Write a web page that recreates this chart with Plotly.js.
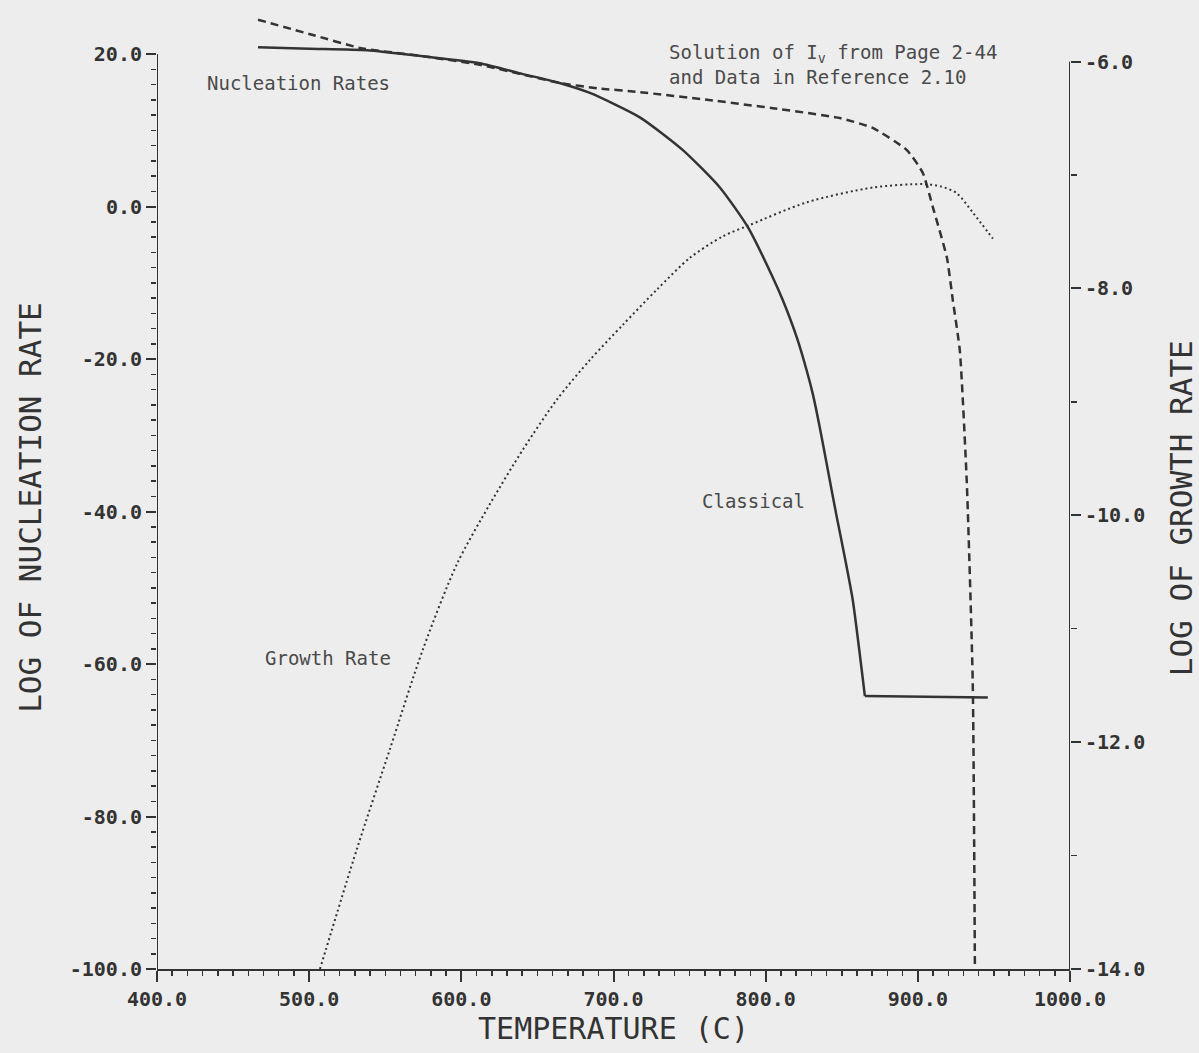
<!DOCTYPE html>
<html>
<head>
<meta charset="utf-8">
<script src="https://cdn.plot.ly/plotly-3.0.1.min.js"></script>
<style>html,body{margin:0;padding:0;background:#ededed;}</style>
</head>
<body>
<div id="chart" style="width:1199px;height:1053px;"></div>
<script>
// Classical nucleation rate (solid, left axis)
const tempClassical = [466.4, 500, 538, 575, 612, 640, 662.8, 684.5, 717.3, 745.6, 769.9, 788.3, 804.7, 811.3, 820.5, 827.1, 831.0, 835.6, 840.9, 846.8, 852.0, 857.3, 865.2, 946.0];
const logNucClassical = [20.9, 20.7, 20.5, 19.7, 18.8, 17.4, 16.3, 14.9, 11.7, 7.4, 2.5, -2.7, -9.3, -12.3, -17.2, -21.6, -24.6, -29.0, -34.6, -40.8, -46.0, -51.7, -64.2, -64.4];

// Solution of Iv (dashed, left axis)
const tempSolution = [466.4, 502.5, 533.4, 575, 612, 664.8, 690, 717.3, 761.4, 804.7, 848.8, 870.4, 892.8, 903.3, 909.9, 919.1, 923.0, 927.6, 932.2, 936.1, 937.5];
const logNucSolution = [24.5, 22.5, 20.8, 19.7, 18.6, 16.2, 15.5, 15.0, 14.0, 12.9, 11.6, 10.3, 7.4, 4.4, -0.1, -6.7, -12.3, -18.9, -36.3, -62.6, -100.0];

// Growth rate (dotted, right axis)
const tempGrowth = [507.1, 531.4, 553.1, 574.8, 597.1, 618.8, 640.5, 662.8, 684.5, 706.2, 728.5, 750.2, 771.9, 789.6, 827.1, 870.4, 903.3, 915.0, 925.6, 936.1, 949.3];
const logGrowth = [-14.0, -12.94, -12.06, -11.18, -10.43, -9.90, -9.42, -8.98, -8.63, -8.32, -8.01, -7.73, -7.54, -7.44, -7.24, -7.11, -7.08, -7.10, -7.16, -7.33, -7.56];

// Tick labels
const xTickVals = [400, 500, 600, 700, 800, 900, 1000];
const xTickText = ["400.0", "500.0", "600.0", "700.0", "800.0", "900.0", "1000.0"];
const yTickVals = [-100, -80, -60, -40, -20, 0, 20];
const yTickText = ["-100.0", "-80.0", "-60.0", "-40.0", "-20.0", "0.0", "20.0"];
const y2TickVals = [-14, -12, -10, -8, -6];
const y2TickText = ["-14.0", "-12.0", "-10.0", "-8.0", "-6.0"];
const yMinorVals = [-98,-96,-94,-92,-90,-88,-86,-84,-82,-78,-76,-74,-72,-70,-68,-66,-64,-62,-58,-56,-54,-52,-50,-48,-46,-44,-42,-38,-36,-34,-32,-30,-28,-26,-24,-22,-18,-16,-14,-12,-10,-8,-6,-4,-2,2,4,6,8,10,12,14,16,18];
const y2MinorVals = [-13, -11, -9, -7];

const FONT = "DejaVu Sans Mono, monospace";
const INK = "#333333";

const nCurve = tempClassical.length - 1; // last point is the flat plateau end
const traces = [
  {x: tempClassical.slice(0, nCurve), y: logNucClassical.slice(0, nCurve), type: "scatter", mode: "lines", yaxis: "y",
   line: {color: INK, width: 2.5, shape: "spline", smoothing: 0.6}, hoverinfo: "skip"},
  {x: tempClassical.slice(nCurve - 1), y: logNucClassical.slice(nCurve - 1), type: "scatter", mode: "lines", yaxis: "y",
   line: {color: INK, width: 2.5}, hoverinfo: "skip"},
  {x: tempSolution, y: logNucSolution, type: "scatter", mode: "lines", yaxis: "y",
   line: {color: INK, width: 2.5, dash: "8px,5px", shape: "spline", smoothing: 0.5}, hoverinfo: "skip"},
  {x: tempGrowth, y: logGrowth, type: "scatter", mode: "lines", yaxis: "y2",
   line: {color: INK, width: 2, dash: "2px,3px", shape: "spline", smoothing: 0.8}, hoverinfo: "skip"}
];

const annFont = {family: FONT, size: 19, color: "#4a4a4a"};
const tickFont = {family: FONT, size: 20, color: INK, weight: "bold"};
const titleFont = {family: FONT, size: 31, color: INK};
const layout = {
  width: 1199, height: 1053,
  margin: {l: 157, r: 129, t: 14, b: 84},
  paper_bgcolor: "#ededed", plot_bgcolor: "#ededed",
  showlegend: false,
  xaxis: {
    range: [400, 1000], tickmode: "array", tickvals: xTickVals, ticktext: xTickText,
    ticks: "outside", ticklen: 11, tickwidth: 2, tickcolor: INK,
    showline: true, linewidth: 2, linecolor: INK, zeroline: false, showgrid: false,
    minor: {tickmode: "linear", tick0: 400, dtick: 10, ticks: "outside", ticklen: 5, tickwidth: 1.5, tickcolor: INK, showgrid: false},
    tickfont: tickFont,
    title: {text: "TEMPERATURE (C)", font: {family: FONT, size: 30, color: INK}, standoff: 6}
  },
  yaxis: {
    range: [-100, 25.25], tickmode: "array", tickvals: yTickVals, ticktext: yTickText,
    ticks: "outside", ticklen: 10, tickwidth: 2, tickcolor: INK,
    showline: false, zeroline: false, showgrid: false,
    minor: {tickmode: "array", tickvals: yMinorVals, ticks: "outside", ticklen: 5, tickwidth: 1.5, tickcolor: INK, showgrid: false},
    tickfont: tickFont
  },
  yaxis2: {
    overlaying: "y", side: "right", anchor: "x",
    range: [-14, -5.58], tickmode: "array", tickvals: y2TickVals, ticktext: y2TickText,
    ticks: "outside", ticklen: 10, tickwidth: 2, tickcolor: INK,
    showline: false, zeroline: false, showgrid: false,
    minor: {tickmode: "array", tickvals: y2MinorVals, ticks: "outside", ticklen: 6, tickwidth: 1.5, tickcolor: INK, showgrid: false},
    tickfont: tickFont
  },
  shapes: [
    {type: "line", xref: "x", yref: "y", x0: 400, x1: 400, y0: -100, y1: 20, line: {color: INK, width: 2}},
    {type: "line", xref: "x", yref: "y2", x0: 1000, x1: 1000, y0: -14, y1: -6, line: {color: INK, width: 2}}
  ],
  annotations: [
    {x: -0.139, y: 0.483, xref: "paper", yref: "paper", text: "LOG OF NUCLEATION RATE", textangle: -90, showarrow: false, xanchor: "center", yanchor: "middle", font: titleFont},
    {x: 1.121, y: 0.483, xref: "paper", yref: "paper", text: "LOG OF GROWTH RATE", textangle: -90, showarrow: false, xanchor: "center", yanchor: "middle", font: titleFont},
    {x: 431.5, y: 16.2, xref: "x", yref: "y", text: "Nucleation Rates", showarrow: false, xanchor: "left", yanchor: "middle", font: annFont},
    {x: 735, y: 18.6, xref: "x", yref: "y", text: "Solution of I<sub>v</sub> from Page 2-44<br>and Data in Reference 2.10", showarrow: false, xanchor: "left", yanchor: "middle", align: "left", font: annFont},
    {x: 756.8, y: -38.6, xref: "x", yref: "y", text: "Classical", showarrow: false, xanchor: "left", yanchor: "middle", font: annFont},
    {x: 469.6, y: -59.2, xref: "x", yref: "y", text: "Growth Rate", showarrow: false, xanchor: "left", yanchor: "middle", font: annFont}
  ]
};

Plotly.newPlot("chart", traces, layout, {displayModeBar: false, staticPlot: true});
</script>
</body>
</html>
